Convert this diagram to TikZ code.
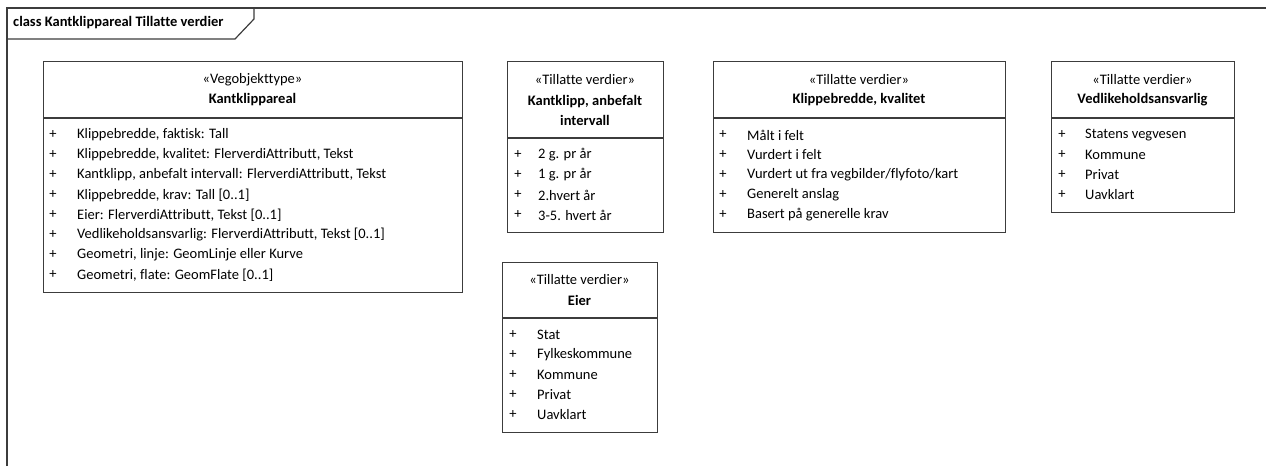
\documentclass[tikz,border=0pt]{standalone}
\usepackage{fontspec}
\setmainfont{Carlito}[Ligatures=NoCommon]
\usepackage{tikz}
\usetikzlibrary{positioning}
\usetikzlibrary{calc}
\definecolor{umlline}{HTML}{3C3C3C}
\tikzstyle{classbox}=[draw=umlline, line width=1.2pt, fill=white, anchor=north west, inner sep=0pt]
\tikzstyle{stereo}=[font=\fontsize{14.5}{16}\selectfont, inner sep=0pt]
\tikzstyle{title}=[font=\fontsize{14.5}{20}\selectfont\bfseries, inner sep=0pt, align=center]
\tikzstyle{attr}=[font=\fontsize{14.5}{16}\selectfont, anchor=west, inner sep=0pt]
\tikzstyle{plus}=[font=\fontsize{14.5}{16}\selectfont, inner sep=0pt]
\tikzstyle{divider}=[draw=umlline, line width=1.2pt]

\begin{document}
\begin{tikzpicture}[x=1pt, y=-1pt]
    \useasboundingbox (0,0) rectangle (1266,466);

    % frame
    \draw [umlline, line width=1.2pt] (7,466) -- (7,8) -- (1266,8);
    \draw [umlline, line width=1.2pt] (7,39) -- (235,39) -- (254,19) -- (254,8);
    \node [attr, font=\fontsize{14.5}{16}\selectfont\bfseries] (frame-label) at (13,23) {class Kantklippareal Tillatte verdier};

    % Kantklippareal
    \node [classbox, minimum width=419pt, minimum height=231pt] (kant) at (43,61) {};
    \draw [divider] (43,118) -- (462,118);
    \node [stereo] (kant-stereo) at (252.5,80) {«Vegobjekttype»};
    \node [title] (kant-name) at (252.5,100) {Kantklippareal};
    \foreach \t [count=\i] in {{Klippebredde, faktisk: Tall},
        {Klippebredde, kvalitet: FlerverdiAttributt, Tekst},
        {Kantklipp, anbefalt intervall: FlerverdiAttributt, Tekst},
        {Klippebredde, krav: Tall [0..1]},
        {Eier: FlerverdiAttributt, Tekst [0..1]},
        {Vedlikeholdsansvarlig: FlerverdiAttributt, Tekst [0..1]},
        {Geometri, linje: GeomLinje eller Kurve},
        {Geometri, flate: GeomFlate [0..1]}}
    {
    \node [plus] (kant-plus-\i) at (53,115+20*\i) {+};
    \node [attr] (kant-\i) at (77,115+20*\i) {\t};
    }

    % Kantklipp, anbefalt intervall
    \node [classbox, minimum width=156pt, minimum height=171pt] (intervall) at (507,61) {};
    \draw [divider] (507,138) -- (663,138);
    \node [stereo] (intervall-stereo) at (585,80) {«Tillatte verdier»};
    \node [title] (intervall-name) at (585,110) {Kantklipp, anbefalt\\intervall};
    \foreach \t [count=\i] in {2 g. pr år, 1 g. pr år, 2.hvert år, 3-5. hvert år}
    {
    \node [plus] (intervall-plus-\i) at (518,135+20*\i) {+};
    \node [attr] (intervall-\i) at (538,135+20*\i) {\t};
    }

    % Klippebredde, kvalitet
    \node [classbox, minimum width=292pt, minimum height=171pt] (kvalitet) at (713,61) {};
    \draw [divider] (713,118) -- (1005,118);
    \node [stereo] (kvalitet-stereo) at (859,80) {«Tillatte verdier»};
    \node [title] (kvalitet-name) at (859,100) {Klippebredde, kvalitet};
    \foreach \t [count=\i] in {Målt i felt, Vurdert i felt, Vurdert ut fra vegbilder/flyfoto/kart,
        Generelt anslag, Basert på generelle krav}
    {
    \node [plus] (kvalitet-plus-\i) at (723,115+20*\i) {+};
    \node [attr] (kvalitet-\i) at (747,115+20*\i) {\t};
    }

    % Vedlikeholdsansvarlig
    \node [classbox, minimum width=183pt, minimum height=151pt] (vedlikehold) at (1051,61) {};
    \draw [divider] (1051,118) -- (1234,118);
    \node [stereo] (vedlikehold-stereo) at (1142.5,80) {«Tillatte verdier»};
    \node [title] (vedlikehold-name) at (1142.5,100) {Vedlikeholdsansvarlig};
    \foreach \t [count=\i] in {Statens vegvesen, Kommune, Privat, Uavklart}
    {
    \node [plus] (vedlikehold-plus-\i) at (1062,115+20*\i) {+};
    \node [attr] (vedlikehold-\i) at (1085,115+20*\i) {\t};
    }

    % Eier
    \node [classbox, minimum width=155pt, minimum height=170pt] (eier) at (502,262) {};
    \draw [divider] (502,318) -- (657,318);
    \node [stereo] (eier-stereo) at (579.5,280) {«Tillatte verdier»};
    \node [title] (eier-name) at (579.5,300) {Eier};
    \foreach \t [count=\i] in {Stat, Fylkeskommune, Kommune, Privat, Uavklart}
    {
    \node [plus] (eier-plus-\i) at (513,315+20*\i) {+};
    \node [attr] (eier-\i) at (537,315+20*\i) {\t};
    }
\end{tikzpicture}
\end{document}
